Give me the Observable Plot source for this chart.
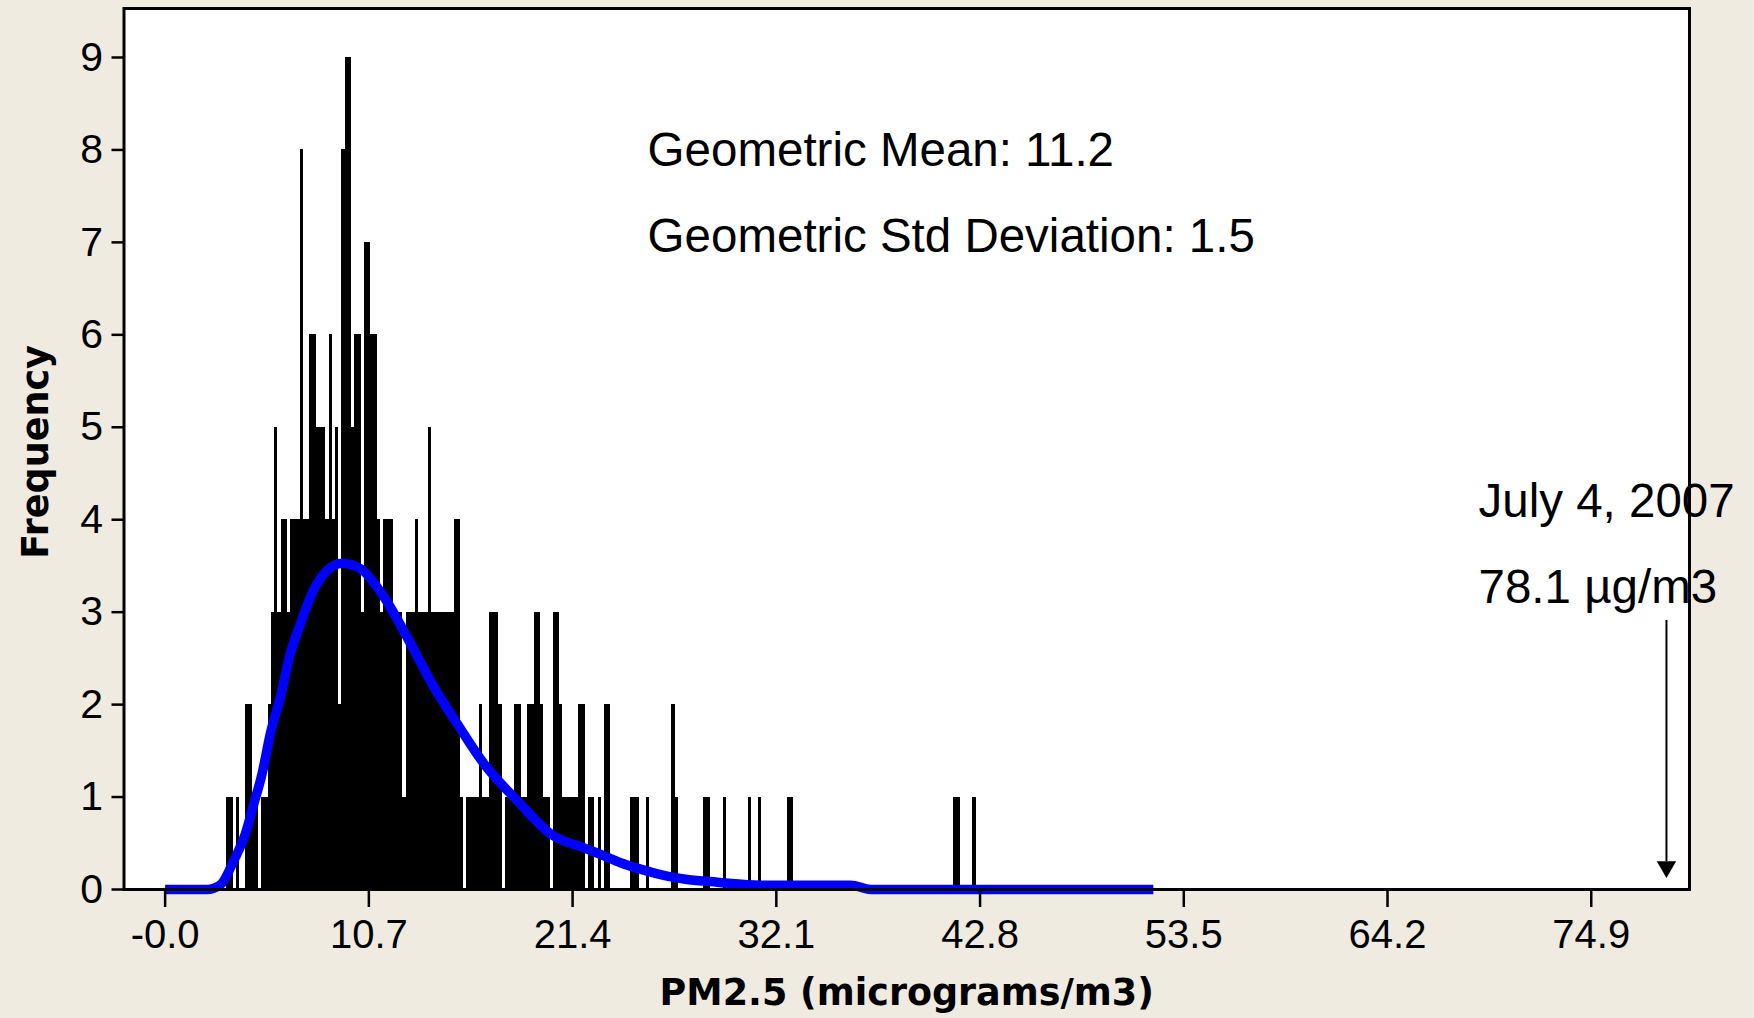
<!DOCTYPE html>
<html>
<head>
<meta charset="utf-8">
<script src="https://cdn.jsdelivr.net/npm/d3@7"></script>
<script src="https://cdn.jsdelivr.net/npm/@observablehq/plot@0.6"></script>
<style>
  html, body { margin: 0; padding: 0; background: #efebe1; }
  #chart svg { display: block; }
</style>
</head>
<body>
<div id="chart"></div>
<script>
// ---- Data ----
// Histogram: consecutive bins starting at binStart (PM2.5, µg/m3), each binWidth wide
const binStart = 3.233;
const binWidth = 0.1682;
const counts = [
  1,1,0,1,0,0,2,2,1,1, 0,1,1,2,3,5,3,4,4,3,
  4,4,4,8,4,4,6,6,5,5, 5,4,6,4,5,2,8,9,9,5,
  6,6,3,7,7,6,6,4,3,4, 4,4,3,3,3,1,3,3,3,4,
  3,3,3,5,3,3,3,3,3,3, 3,4,4,1,0,1,1,1,1,2,
  1,1,3,3,3,2,0,1,1,1, 2,2,1,1,2,2,3,3,2,1,
  1,0,3,3,2,1,1,1,1,1, 2,2,0,1,1,0,1,0,2,2,
  0,0,0,0,0,0,1,1,1,0, 0,1,0,0,0,0,0,0,0,2,
  1,0,0,0,0,0,0,0,0,1, 1,0,0,0,0,1,0,0,0,0,
  0,0,0,1,0,0,1,0,0,0, 0,0,0,0,0,1,1,0,0,0,
  0,0,0,0,0,0,0,0,0,0, 0,0,0,0,0,0,0,0,0,0,
  0,0,0,0,0,0,0,0,0,0, 0,0,0,0,0,0,0,0,0,0,
  0,0,0,0,0,0,0,1,1,0, 0,0,0,1
];

// Fitted (lognormal) density curve
const curveX = [0, 2.2, 2.9, 3.6, 4.21, 4.65, 5.09, 5.52, 6.05, 6.57, 7.1, 7.8, 8.5, 9.29, 10.26, 11.31, 11.84, 12.89, 14.12, 15.35, 16.75, 18.5, 20.26, 22.0, 22.87, 23.92, 24.97, 26.37, 27.42, 29.0, 31.27, 36.0, 37.05, 51.9];
const curveY = [0, 0, 0.05, 0.31, 0.6, 0.92, 1.25, 1.68, 2.08, 2.55, 2.87, 3.24, 3.45, 3.53, 3.47, 3.22, 3.05, 2.66, 2.19, 1.79, 1.36, 0.96, 0.6, 0.45, 0.38, 0.29, 0.22, 0.144, 0.108, 0.079, 0.047, 0.047, 0, 0];

// Axes
const xTicks = [0, 10.7, 21.4, 32.1, 42.8, 53.5, 64.2, 74.9];
const xTickLabels = ["-0.0", "10.7", "21.4", "32.1", "42.8", "53.5", "64.2", "74.9"];
const yTicks = [0, 1, 2, 3, 4, 5, 6, 7, 8, 9];
const xTitle = "PM2.5 (micrograms/m3)";
const yTitle = "Frequency";

// Annotations
const statLines = ["Geometric Mean: 11.2", "Geometric Std Deviation: 1.5"];
const statY = [7.83, 6.90];
const statX = 25.34;
const eventLines = ["July 4, 2007", "78.1 µg/m3"];
const eventY = [4.03, 3.10];
const eventX = 68.98;
const arrowX = 78.85;
const arrowTop = 2.91;
const arrowBottom = 0.30;
const arrowHead = 0.245;

// ---- Build tables ----
const bins = counts.map((c, i) => ({
  x1: binStart + i * binWidth,
  x2: binStart + (i + 1) * binWidth,
  count: c
})).filter(d => d.count > 0);
const curve = curveX.map((x, i) => ({x, y: curveY[i]}));
const xLabelMap = new Map(xTicks.map((t, i) => [t, xTickLabels[i]]));

const sans = "'Liberation Sans', Arial, sans-serif";
const bold = "'DejaVu Sans', Verdana, sans-serif";

const chart = Plot.plot({
  width: 1754,
  height: 1018,
  marginLeft: 123.5,
  marginRight: 65,
  marginTop: 8,
  marginBottom: 129,
  style: {background: "transparent", fontFamily: sans, fontSize: "40px", color: "black", overflow: "visible"},
  x: {domain: [-2.16, 80.06]},
  y: {domain: [0, 9.53]},
  marks: [
    Plot.frame({fill: "white", stroke: null}),
    Plot.rectY(bins, {x1: "x1", x2: "x2", y: "count", fill: "black", stroke: null, inset: 0, shapeRendering: "crispEdges"}),
    Plot.line(curve, {x: "x", y: "y", stroke: "#0000ff", strokeWidth: 9.5, curve: "monotone-x", strokeLinecap: "butt", strokeLinejoin: "round"}),
    Plot.ruleX([arrowX], {x: d => d, y1: arrowTop, y2: arrowBottom, stroke: "black", strokeWidth: 2}),
    Plot.dot([arrowX], {x: d => d, y: arrowHead, symbol: "triangle", r: 7.2, fill: "black", stroke: null, rotate: 180}),
    Plot.text(statLines, {x: statX, y: (d, i) => statY[i], text: d => d, textAnchor: "start", lineAnchor: "bottom", fontSize: 47.5, fontFamily: sans, fill: "black"}),
    Plot.text(eventLines, {x: eventX, y: (d, i) => eventY[i], text: d => d, textAnchor: "start", lineAnchor: "bottom", fontSize: 47.5, fontFamily: sans, fill: "black"}),
    Plot.axisX({ticks: xTicks, tickFormat: d => xLabelMap.get(d), tickSize: 18, tickPadding: 12, strokeWidth: 2.5, stroke: "black", fill: "black", label: null, fontSize: 40, fontFamily: sans}),
    Plot.axisY({ticks: yTicks, tickFormat: d => String(d), tickSize: 12, tickPadding: 9, strokeWidth: 2.5, stroke: "black", fill: "black", label: null, fontSize: 41, fontFamily: sans}),
    Plot.frame({stroke: "black", strokeWidth: 3}),
    Plot.text([xTitle], {frameAnchor: "bottom", dy: 115, text: d => d, lineAnchor: "bottom", textAnchor: "middle", fontSize: 36.5, fontWeight: "bold", fontFamily: bold, fill: "black"}),
    Plot.text([yTitle], {frameAnchor: "left", dx: -76.5, dy: 3, rotate: -90, text: d => d, lineAnchor: "bottom", textAnchor: "middle", fontSize: 36.5, fontWeight: "bold", fontFamily: bold, fill: "black"})
  ]
});
document.getElementById("chart").appendChild(chart);
</script>
</body>
</html>
